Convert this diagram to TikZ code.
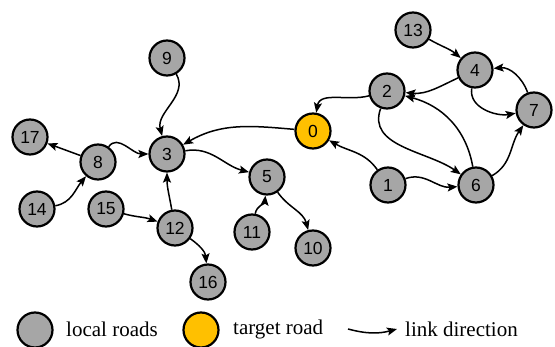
\documentclass[tikz,border=0pt]{standalone}
\usepackage{fontspec}
\setmainfont{Liberation Serif}
\newfontfamily\nodefont{Liberation Sans}
\usetikzlibrary{arrows.meta}
\definecolor{roadgray}{HTML}{A6A6A6}
\definecolor{roadgold}{HTML}{FFC000}
\tikzset{
  road/.style={circle, draw=black, line width=2.2pt, fill=roadgray, minimum size=35pt, inner sep=0pt, font=\nodefont\fontsize{17.5}{17.5}\selectfont},
  target/.style={road, fill=roadgold},
  link/.style={line width=1.5pt, -{Stealth[length=10pt,width=8pt,inset=2pt]}},
  legtext/.style={font=\fontsize{21}{21}\selectfont, anchor=west, inner sep=0pt}
}
\begin{document}
\begin{tikzpicture}[x=1pt,y=-1pt]
\useasboundingbox (0,0) rectangle (555,347);
\node[road] (n9) at (167,58) {9};
\node[road] (n17) at (30,137) {17};
\node[road] (n8) at (98,162) {8};
\node[road] (n3) at (167,154) {3};
\node[road] (n5) at (267,177) {5};
\node[road] (n14) at (37,209) {14};
\node[road] (n15) at (106,209) {15};
\node[road] (n12) at (175,228) {12};
\node[road] (n11) at (252,232) {11};
\node[road] (n16) at (208,282) {16};
\node[road] (n13) at (413,30) {13};
\node[road] (n4) at (475,70) {4};
\node[road] (n2) at (387,91) {2};
\node[road] (n7) at (534,110) {7};
\node[target] (n0) at (313,131) {0};
\node[road] (n1) at (388,185) {1};
\node[road] (n6) at (476,185) {6};
\node[road] (n10) at (313,248) {10};

\draw[link] (n9) to[out=-60,in=105] (n3);
\draw[link] (n8) to[out=55,in=180] (n3);
\draw[link] (n8) -- (n17);
\draw[link] (n14) to[out=10,in=-130] (n8);
\draw[link] (n15) to[out=-15,in=160] (n12);
\draw[link] (n12) to[out=100,in=-90] (n3);
\draw[link] (n12) to[out=-35,in=95] (n16);
\draw[link] (n3) to[out=10,in=165] (n5);
\draw[link] (n0) to[out=175,in=30] (n3);
\draw[link] (n11) to[out=80,in=-95] (n5);
\draw[link] (n5) to[out=-55,in=105] (n10);
\draw[link] (n2) to[out=195,in=80] (n0);
\draw[link] (n1) to[out=125,in=-30] (n0);
\draw[link] (n1) to[out=20,in=185] (n6);
\draw[link] (n2) to[out=-110,in=145] (n6);
\draw[link] (n6) to[out=100,in=-15] (n2);
\draw[link] (n6) to[out=30,in=-125] (n7);
\draw[link] (n4) to[out=205,in=-5] (n2);
\draw[link] (n4) to[out=-100,in=190] (n7);
\draw[link] (n7) to[out=110,in=5] (n4);
\draw[link] (n13) to[out=-30,in=140] (n4);

% legend
\node[road] (lg1) at (35,330) {};
\node[legtext] (lt1) at (66,329) {local roads};
\node[target] (lg2) at (201,330) {};
\node[legtext] (lt2) at (233,329) {target road};
\coordinate (la) at (348,329);
\coordinate (lb) at (397,329);
\draw[link] (la) to[out=-15,in=195] (lb);
\node[legtext] (lt3) at (405,329) {link direction};
\end{tikzpicture}
\end{document}
